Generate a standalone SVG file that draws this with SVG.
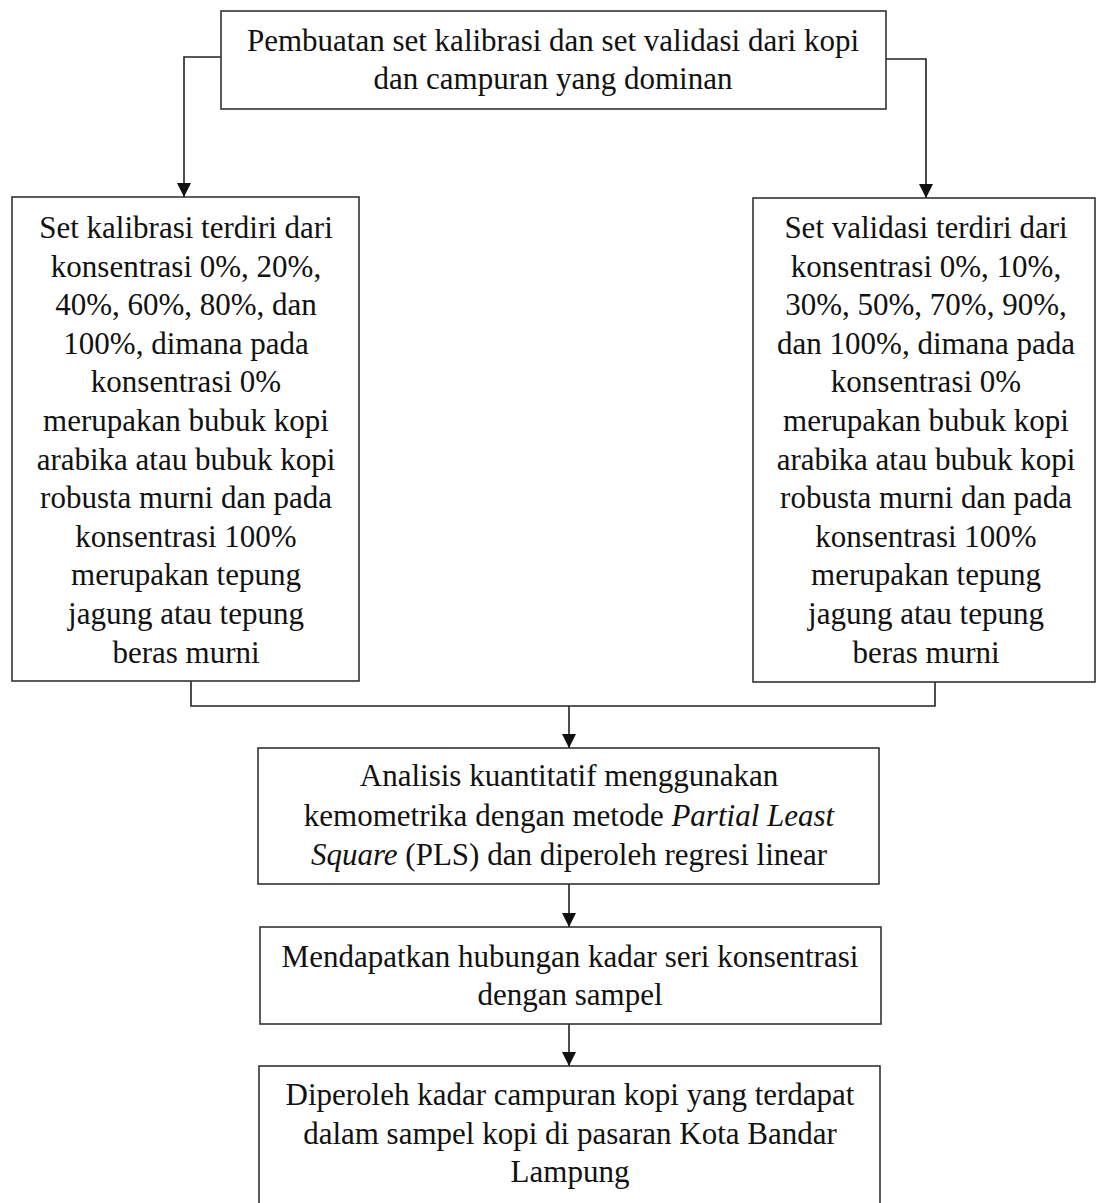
<svg xmlns="http://www.w3.org/2000/svg" width="1096" height="1203" viewBox="0 0 1096 1203">
<defs>
<style>
.box{fill:#fff;stroke:#333;stroke-width:1.6}
.t{font-family:"Liberation Serif","Times New Roman",serif;font-size:31px;fill:#111;text-anchor:middle}
.i{font-style:italic}
.c{fill:none;stroke:#222;stroke-width:1.6}
</style>
<marker id="ah" markerUnits="userSpaceOnUse" markerWidth="14" markerHeight="14" refX="14" refY="7" orient="auto">
<path d="M0,0 L14,7 L0,14 z" fill="#111"/>
</marker>
</defs>
<rect width="1096" height="1203" fill="#fff"/>
<g id="connectors">
<path class="c" d="M221,57 H184 V197" marker-end="url(#ah)"/>
<path class="c" d="M886,59 H926 V198" marker-end="url(#ah)"/>
<path class="c" d="M191,681 V706 H935 V682"/>
<path class="c" d="M569,706 V748" marker-end="url(#ah)"/>
<path class="c" d="M569,884 V927" marker-end="url(#ah)"/>
<path class="c" d="M569,1024 V1066" marker-end="url(#ah)"/>
</g>
<g id="n1">
<rect class="box" x="221" y="11" width="665" height="98"/>
<text class="t" x="553" y="51">Pembuatan set kalibrasi dan set validasi dari kopi</text>
<text class="t" x="553" y="89">dan campuran yang dominan</text>
</g>
<g id="n2">
<rect class="box" x="12" y="197" width="347" height="484"/>
<text class="t" x="186" y="238">Set kalibrasi terdiri dari</text>
<text class="t" x="186" y="276.6">konsentrasi 0%, 20%,</text>
<text class="t" x="186" y="315.2">40%, 60%, 80%, dan</text>
<text class="t" x="186" y="353.8">100%, dimana pada</text>
<text class="t" x="186" y="392.4">konsentrasi 0%</text>
<text class="t" x="186" y="431">merupakan bubuk kopi</text>
<text class="t" x="186" y="469.6">arabika atau bubuk kopi</text>
<text class="t" x="186" y="508.2">robusta murni dan pada</text>
<text class="t" x="186" y="546.8">konsentrasi 100%</text>
<text class="t" x="186" y="585.4">merupakan tepung</text>
<text class="t" x="186" y="624">jagung atau tepung</text>
<text class="t" x="186" y="662.6">beras murni</text>
</g>
<g id="n3">
<rect class="box" x="753" y="198" width="342" height="484"/>
<text class="t" x="926" y="238">Set validasi terdiri dari</text>
<text class="t" x="926" y="276.6">konsentrasi 0%, 10%,</text>
<text class="t" x="926" y="315.2">30%, 50%, 70%, 90%,</text>
<text class="t" x="926" y="353.8">dan 100%, dimana pada</text>
<text class="t" x="926" y="392.4">konsentrasi 0%</text>
<text class="t" x="926" y="431">merupakan bubuk kopi</text>
<text class="t" x="926" y="469.6">arabika atau bubuk kopi</text>
<text class="t" x="926" y="508.2">robusta murni dan pada</text>
<text class="t" x="926" y="546.8">konsentrasi 100%</text>
<text class="t" x="926" y="585.4">merupakan tepung</text>
<text class="t" x="926" y="624">jagung atau tepung</text>
<text class="t" x="926" y="662.6">beras murni</text>
</g>
<g id="n4">
<rect class="box" x="258" y="748" width="621" height="136"/>
<text class="t" x="569" y="786">Analisis kuantitatif menggunakan</text>
<text class="t" x="569" y="826">kemometrika dengan metode <tspan class="i">Partial Least</tspan></text>
<text class="t" x="569" y="865"><tspan class="i">Square</tspan> (PLS) dan diperoleh regresi linear</text>
</g>
<g id="n5">
<rect class="box" x="260" y="927" width="621" height="97"/>
<text class="t" x="570" y="967">Mendapatkan hubungan kadar seri konsentrasi</text>
<text class="t" x="570" y="1005">dengan sampel</text>
</g>
<g id="n6">
<rect class="box" x="259" y="1066" width="621" height="160"/>
<text class="t" x="570" y="1105">Diperoleh kadar campuran kopi yang terdapat</text>
<text class="t" x="570" y="1144">dalam sampel kopi di pasaran Kota Bandar</text>
<text class="t" x="570" y="1182">Lampung</text>
</g>
</svg>
